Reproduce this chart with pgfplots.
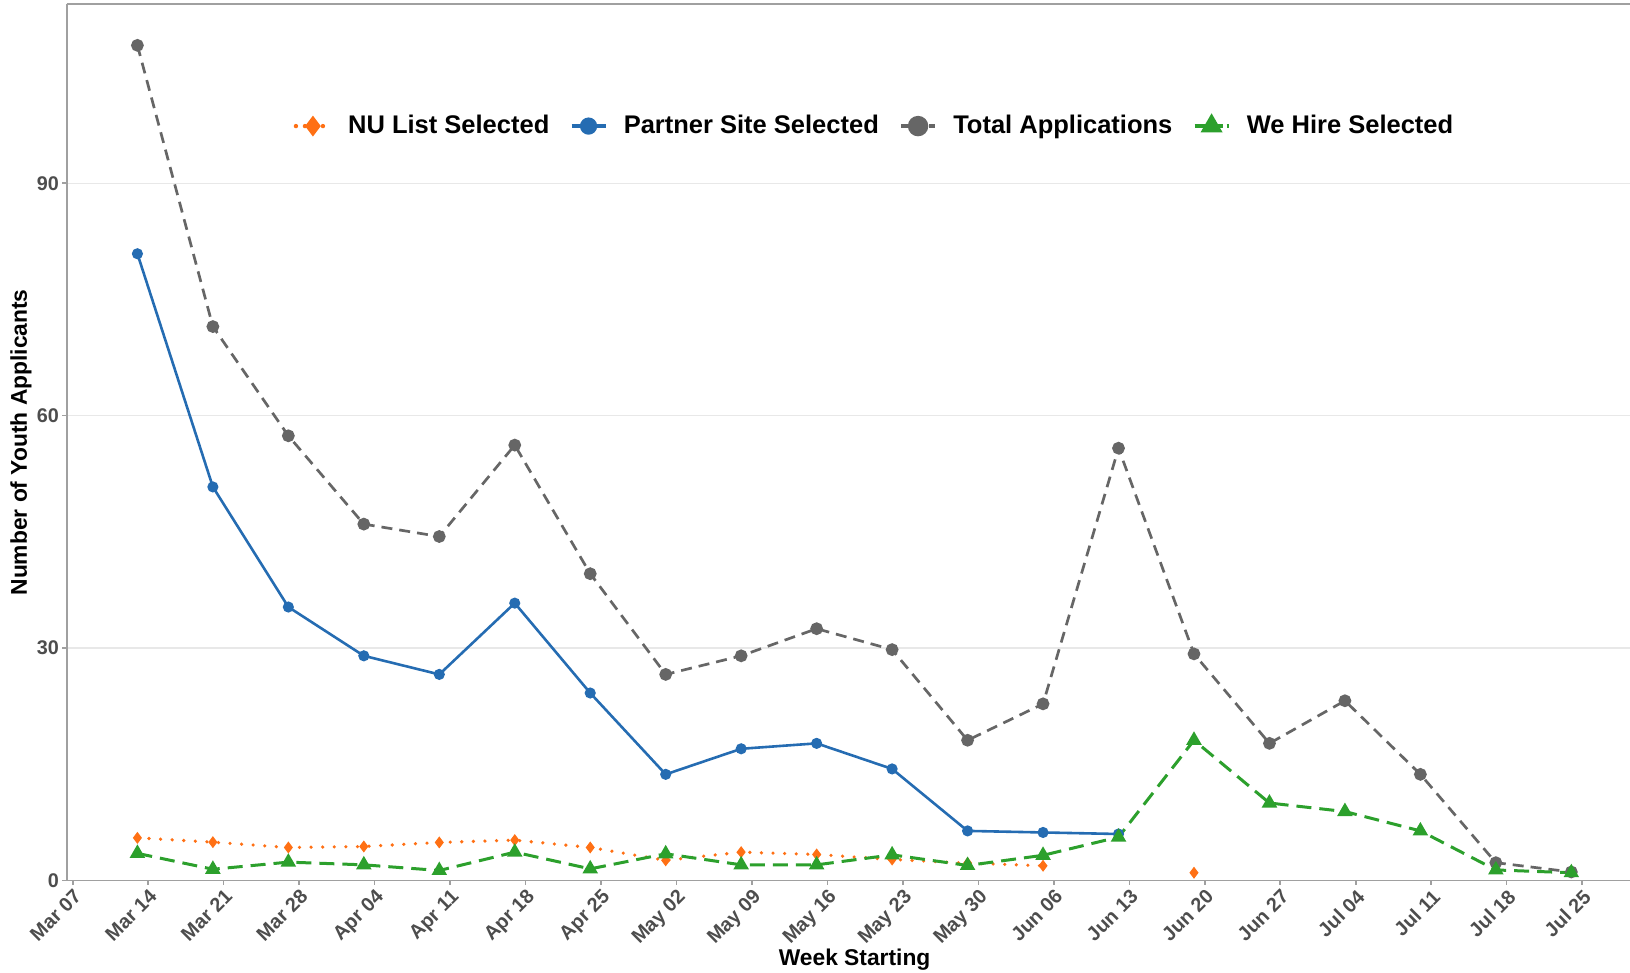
\documentclass[border=0pt]{standalone}
\usepackage{fontspec}
\setmainfont{Liberation Sans}
\usepackage{pgfplots}
\pgfplotsset{compat=1.18}
\usetikzlibrary{calc}
\definecolor{cgray}{RGB}{102,102,102}
\definecolor{cblue}{RGB}{37,108,178}
\definecolor{corange}{RGB}{255,112,20}
\definecolor{cgreen}{RGB}{44,160,44}
\definecolor{framegray}{RGB}{160,160,160}
\definecolor{gridgray}{RGB}{232,232,232}
\definecolor{tickgray}{RGB}{77,77,77}
\begin{document}
\begin{tikzpicture}
\begin{axis}[
  name=ax,
  scale only axis,
  width=787.9pt, height=438.1pt,
  xmin=-0.08, xmax=20.8, ymin=0, ymax=113.1,
  axis x line*=bottom, axis y line*=left,
  axis line style={draw=framegray, line width=0.9pt},
  xtick={0,...,20},
  xticklabels={Mar 07,Mar 14,Mar 21,Mar 28,Apr 04,Apr 11,Apr 18,Apr 25,May 02,May 09,May 16,May 23,May 30,Jun 06,Jun 13,Jun 20,Jun 27,Jul 04,Jul 11,Jul 18,Jul 25},
  ytick={0,30,60,90},
  tick align=outside, major tick length=2.2pt,
  tick style={draw=framegray, line width=0.8pt},
  ymajorgrids, grid style={draw=gridgray, line width=0.6pt},
  xticklabel style={rotate=45, anchor=north east, font=\bfseries\fontsize{9.9}{11}\selectfont, text=tickgray, inner sep=1pt},
  yticklabel style={font=\bfseries\fontsize{9.9}{11}\selectfont, text=tickgray, inner sep=1.5pt},
  /pgf/number format/assume math mode=true,
  xlabel={Week Starting},
  ylabel={Number of Youth Applicants},
  xlabel style={at={(axis description cs:0.5,-0.09)}, anchor=center, font=\bfseries\fontsize{11.4}{13}\selectfont},
  ylabel style={at={(axis description cs:-0.029,0.5)}, anchor=center, font=\bfseries\fontsize{11.4}{13}\selectfont},
  unbounded coords=jump,
  legend style={at={(0.512,0.861)}, anchor=center, draw=none, fill=none,
    font=\bfseries\fontsize{12.75}{14}\selectfont,
    nodes={inner sep=0pt},
    /tikz/every odd column/.append style={column sep=8pt},
    /tikz/every even column/.append style={column sep=10pt}},
  legend columns=-1,
  legend image code/.code={\draw[mark repeat=2,mark phase=2,#1] plot coordinates {(0pt,0pt) (8.5pt,0pt) (17pt,0pt)};},
]
% NU List Selected
\addplot[forget plot, corange, line width=1.8pt, line cap=round, dash pattern=on 0pt off 5.8pt, mark=diamond*, mark size=2.6pt, mark options={solid, fill=corange, draw=corange, line width=0.5pt}]
coordinates {
(0.857,5.5) (1.857,4.95) (2.857,4.26) (3.857,4.39) (4.857,4.91) (5.857,5.21) (6.857,4.26) (7.857,2.6) (8.857,3.66) (9.857,3.36) (10.857,2.71) (11.857,2.24) (12.857,1.9) (13.857,nan) (14.857,1.0)
};
% Partner Site Selected
\addplot[forget plot, cblue, line width=1.3pt, mark=*, mark size=2.1pt, mark options={solid, fill=cblue, draw=cblue}]
coordinates {
(0.857,80.9) (1.857,50.8) (2.857,35.3) (3.857,29.0) (4.857,26.6) (5.857,35.8) (6.857,24.2) (7.857,13.7) (8.857,17.0) (9.857,17.7) (10.857,14.4) (11.857,6.4) (12.857,6.2) (13.857,6.0)
};
% Total Applications
\addplot[forget plot, cgray, line width=1.35pt, dash pattern=on 5.5pt off 3.5pt, mark=*, mark size=2.5pt, mark options={solid, fill=cgray, draw=cgray}]
coordinates {
(0.857,107.8) (1.857,71.5) (2.857,57.4) (3.857,46.0) (4.857,44.4) (5.857,56.2) (6.857,39.6) (7.857,26.6) (8.857,29.0) (9.857,32.5) (10.857,29.8) (11.857,18.1) (12.857,22.8) (13.857,55.8) (14.857,29.25) (15.857,17.7) (16.857,23.2) (17.857,13.7) (18.857,2.3) (19.857,1.1)
};
% We Hire Selected
\addplot[forget plot, cgreen, line width=1.5pt, dash pattern=on 7.5pt off 4pt, mark=triangle*, mark size=3pt, mark options={solid, fill=cgreen, draw=cgreen}]
coordinates {
(0.857,3.5) (1.857,1.45) (2.857,2.37) (3.857,2.02) (4.857,1.29) (5.857,3.66) (6.857,1.5) (7.857,3.44) (8.857,2.02) (9.857,2.02) (10.857,3.31) (11.857,1.94) (12.857,3.25) (13.857,5.6) (14.857,18.1) (15.857,10.0) (16.857,8.9) (17.857,6.4) (18.857,1.36) (19.857,1.0)
};
\addlegendimage{corange, line width=2.2pt, line cap=round, dash pattern=on 0pt off 4.5pt, mark=diamond*, mark size=3.4pt, mark options={solid, fill=corange, draw=corange}}
\addlegendentry{NU List Selected}
\addlegendimage{cblue, line width=2.2pt, mark=*, mark size=3.2pt, mark options={solid, fill=cblue, draw=cblue}}
\addlegendentry{Partner Site Selected}
\addlegendimage{cgray, line width=2.2pt, dash pattern=on 4pt off 3pt, mark=*, mark size=4pt, mark options={solid, fill=cgray, draw=cgray}}
\addlegendentry{Total Applications}
\addlegendimage{cgreen, line width=2.2pt, dash pattern=on 6pt off 2pt, mark=triangle*, mark size=4.2pt, mark options={solid, fill=cgreen, draw=cgreen}}
\addlegendentry{We Hire Selected}
\end{axis}
\draw[framegray, line width=0.9pt] (ax.north west) -- (ax.north east);
\pgfresetboundingbox
\path[use as bounding box] ($(ax.south west)+(-33.35pt,-46.25pt)$) rectangle ($(ax.north west)+(781.65pt,2.15pt)$);
\end{tikzpicture}
\end{document}
